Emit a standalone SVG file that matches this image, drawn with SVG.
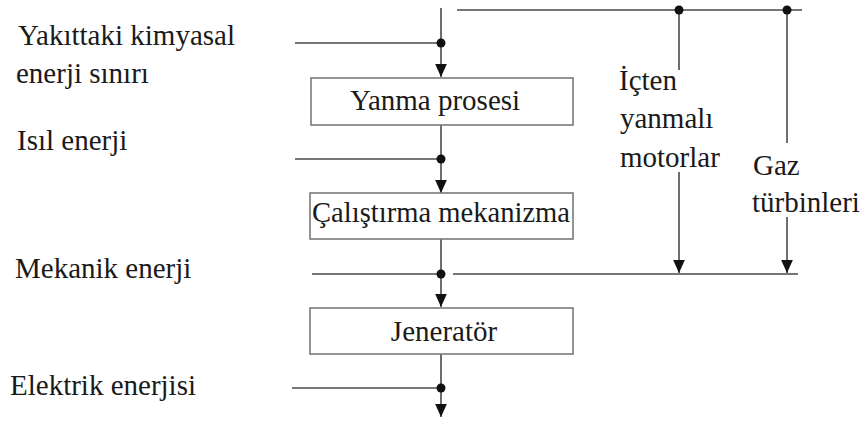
<svg xmlns="http://www.w3.org/2000/svg" width="861" height="428" viewBox="0 0 861 428">
  <style>
    .txt { font-family: "Liberation Serif", "DejaVu Serif", serif; font-size: 29px; fill: #1a1a1a; }
    .box { fill: #ffffff; stroke: #7a7a7a; stroke-width: 1.6; }
    .ln { stroke: #4a4a4a; stroke-width: 1.6; fill: none; }
    .dot { fill: #111111; }
  </style>
  <defs>
    <marker id="arrow" viewBox="0 0 10 10" refX="10" refY="5" markerWidth="13" markerHeight="13" markerUnits="userSpaceOnUse" orient="auto">
      <path d="M0,0.5 L10,5 L0,9.5 Z" fill="#111111"/>
    </marker>
  </defs>
  <rect width="861" height="428" fill="#ffffff"/>

  <g id="connectors">
    <!-- main energy trunk -->
    <line class="ln" x1="441" y1="8" x2="441" y2="77" marker-end="url(#arrow)"/>
    <line class="ln" x1="441" y1="125" x2="441" y2="193" marker-end="url(#arrow)"/>
    <line class="ln" x1="441" y1="239" x2="441" y2="307" marker-end="url(#arrow)"/>
    <line class="ln" x1="441" y1="354" x2="441" y2="417" marker-end="url(#arrow)"/>
    <!-- energy level taps -->
    <line class="ln" x1="295" y1="43" x2="441" y2="43"/>
    <line class="ln" x1="295" y1="159" x2="441" y2="159"/>
    <line class="ln" x1="312" y1="274" x2="441" y2="274"/>
    <line class="ln" x1="292" y1="388" x2="441" y2="388"/>
    <!-- bypass buses -->
    <line class="ln" x1="457" y1="10" x2="802" y2="10"/>
    <line class="ln" x1="453" y1="274" x2="798" y2="274"/>
    <!-- engine branches -->
    <line class="ln" x1="679" y1="10" x2="679" y2="70"/>
    <line class="ln" x1="679" y1="172" x2="679" y2="273" marker-end="url(#arrow)"/>
    <line class="ln" x1="787" y1="10" x2="787" y2="143"/>
    <line class="ln" x1="787" y1="217" x2="787" y2="273" marker-end="url(#arrow)"/>
    <!-- junction dots -->
    <circle class="dot" cx="441" cy="43" r="4.5"/>
    <circle class="dot" cx="441" cy="159" r="4.5"/>
    <circle class="dot" cx="441" cy="274" r="4.5"/>
    <circle class="dot" cx="441" cy="388" r="4.5"/>
    <circle class="dot" cx="679" cy="10" r="4.5"/>
    <circle class="dot" cx="787" cy="10" r="4.5"/>
  </g>

  <g id="yanma">
    <rect class="box" x="311" y="78" width="262" height="47"/>
    <text class="txt" x="435" y="110" text-anchor="middle">Yanma prosesi</text>
  </g>
  <g id="mekanizma">
    <rect class="box" x="310" y="193" width="263" height="46"/>
    <text class="txt" x="441" y="222" text-anchor="middle" textLength="258" lengthAdjust="spacingAndGlyphs">Çalıştırma mekanizma</text>
  </g>
  <g id="jenerator">
    <rect class="box" x="310" y="308" width="263" height="46"/>
    <text class="txt" x="444" y="341" text-anchor="middle">Jeneratör</text>
  </g>

  <g id="labels">
    <text class="txt" x="18" y="45">Yakıttaki kimyasal</text>
    <text class="txt" x="16" y="83">enerji sınırı</text>
    <text class="txt" x="17" y="150">Isıl enerji</text>
    <text class="txt" x="15" y="278">Mekanik enerji</text>
    <text class="txt" x="10" y="395">Elektrik enerjisi</text>
    <text class="txt" x="619" y="90">İçten</text>
    <text class="txt" x="620" y="128">yanmalı</text>
    <text class="txt" x="620" y="167">motorlar</text>
    <text class="txt" x="753" y="175">Gaz</text>
    <text class="txt" x="752" y="212">türbinleri</text>
  </g>
</svg>
